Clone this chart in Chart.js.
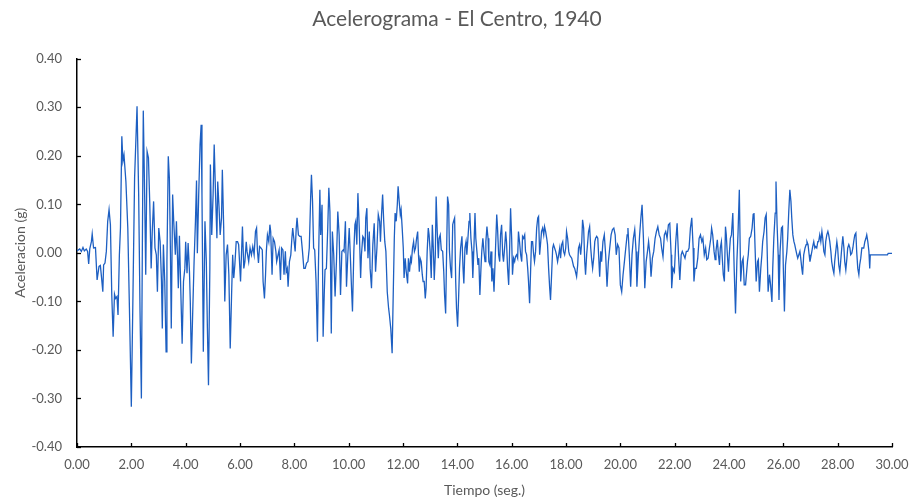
<!DOCTYPE html>
<html>
<head>
<meta charset="utf-8">
<script src="https://cdn.jsdelivr.net/npm/chart.js@4.4.1/dist/chart.umd.min.js"></script>
<style>
  body { margin: 0; background: #fff; }
</style>
</head>
<body>
<canvas id="grafico" width="910" height="499"></canvas>
<script>
// Registro El Centro 1940: tiempo (s) y aceleracion (g)
const tiempo = [
  0.00,0.10,0.16,0.22,0.27,0.34,0.39,0.43,0.47,0.53, 0.56,0.61,0.68,0.74,0.81,0.86,0.90,0.95,0.98,1.03,
  1.08,1.13,1.18,1.23,1.28,1.33,1.38,1.42,1.47,1.51, 1.56,1.60,1.65,1.69,1.73,1.76,1.80,1.87,1.93,2.00,
  2.06,2.12,2.21,2.27,2.32,2.37,2.41,2.44,2.49,2.53, 2.58,2.63,2.68,2.73,2.77,2.82,2.87,2.92,2.96,3.01,
  3.06,3.11,3.14,3.18,3.23,3.28,3.31,3.36,3.40,3.44, 3.47,3.52,3.56,3.62,3.66,3.70,3.73,3.77,
  3.87,3.92,3.97,4.00,4.05,4.09,4.14,4.17,4.21,4.26, 4.31,4.36,4.40,4.43,4.48,4.53,4.57,4.60,4.65,4.71,
  4.76,4.80,4.84,4.89,4.91,4.96,5.01,5.05,5.10,5.15, 5.18,5.23,5.27,5.32,5.35,5.40,5.44,5.49,5.54,5.59,
  5.64,5.69,5.73,5.77,5.81,5.86,5.91,5.95,6.02,6.05, 6.09,6.14,6.18,6.23,6.26,6.32,6.37,6.42,6.47,6.52,
  6.57,6.61,6.64,6.68,6.72,6.77,6.82,6.85,6.90,6.94, 6.97,7.01,7.06,7.10,7.13,7.18,7.22,7.27,7.32,7.35,
  7.40,7.44,7.49,7.53,7.58,7.62,7.67,
  7.70,7.74,7.77,7.82,7.87,7.91,7.94,7.98,8.03,8.07, 8.10,8.15,8.20,8.25,8.30,8.35,8.40,8.45,8.50,8.55,
  8.60,8.63,8.67,8.71,8.75,8.80,8.85,8.89,8.94,8.97, 9.02,9.06,9.10,9.13,9.18,9.23,9.27,9.31,9.36,9.40,
  9.45,9.50,9.55,9.60,9.65,9.70,9.75,9.80,9.83,9.88, 9.92,9.97,10.02,10.06,10.11,10.14,10.19,10.23,10.26,10.30,
  10.34,10.39,10.44,10.47,10.52,10.56,10.60,10.63,10.67,10.71, 10.76,10.79,10.84,10.89,10.94,10.99,11.04,11.09,11.14,11.17,
  11.21,11.25,11.29,11.33,11.37,11.42,11.47,11.50,
  11.55,11.60,11.64,11.68,11.71,11.75,11.79,11.82,11.86,11.90, 11.93,11.97,12.01,12.04,12.08,12.12,12.17,12.20,12.24,12.28,
  12.31,12.35,12.39,12.42,12.46,12.50,12.54,12.57,12.60,12.63, 12.67,12.71,12.74,12.78,12.82,12.85,12.89,12.93,12.96,13.00,
  13.04,13.08,13.12,13.15,13.19,13.22,13.26,13.30,13.33,13.37, 13.41,13.46,13.50,13.53,13.57,13.61,13.64,13.68,13.71,13.75,
  13.79,13.83,13.86,13.90,13.94,13.97,14.01,14.05,14.08,14.12, 14.17,14.21,14.24,14.28,14.32,14.35,14.39,14.43,14.46,14.50,
  14.54,14.57,14.61,14.65,14.68,14.72,14.76,14.79,14.83,14.87, 14.90,14.94,14.98,15.02,15.05,15.09,15.13,15.16,15.20,15.24,
  15.27,15.31,15.35,
  15.45,15.48,15.52,15.56,15.59,15.63,15.67,15.70,15.74,15.78, 15.81,15.85,15.89,15.92,15.96,16.00,16.03,16.07,16.11,16.14,
  16.18,16.22,16.25,16.29,16.33,16.37,16.40,16.44,16.48,16.51, 16.55,16.59,16.62,16.66,16.70,16.73,16.77,16.81,16.84,16.88,
  16.92,16.96,16.99,17.03,17.07,17.10,17.14,17.18,17.21,17.25, 17.29,17.32,17.36,17.40,17.43,17.47,17.51,17.54,17.58,17.62,
  17.65,17.69,17.73,17.77,17.80,17.84,17.88,17.91,17.95,17.99, 18.02,18.06,18.10,18.13,18.17,18.21,18.24,18.28,18.32,18.35,
  18.39,18.43,18.46,18.50,18.54,18.58,18.61,18.65,18.69,18.72, 18.76,18.80,18.83,18.87,18.91,18.94,18.98,19.02,19.06,19.09,
  19.13,19.17,19.20,19.24,19.28,
  19.31,19.36,19.41,19.46,19.51,19.56,19.61,19.66,19.71,19.76, 19.81,19.85,19.90,19.95,20.00,20.05,20.10,20.15,20.20,20.25,
  20.28,20.33,20.38,20.43,20.48,20.53,20.58,20.61,20.66,20.71, 20.76,20.80,20.85,20.90,20.95,21.00,21.04,21.09,21.13,21.18,
  21.23,21.28,21.33,21.38,21.43,21.48,21.52,21.57,21.62,21.67, 21.72,21.77,21.82,21.87,21.89,21.94,21.99,22.04,22.09,22.14,
  22.19,22.24,22.28,22.33,22.38,22.43,22.48,22.53,22.58,22.63, 22.68,22.71,22.75,22.80,22.85,22.90,22.95,23.00,23.04,23.09,
  23.14,
  23.18,23.23,23.28,23.33,23.36,23.40,23.45,23.49,23.52,23.57, 23.61,23.65,23.68,23.72,23.76,23.79,23.83,23.87,23.90,23.94,
  23.98,24.01,24.05,24.09,24.14,24.19,24.24,24.29,24.33,24.38, 24.43,24.48,24.52,24.56,24.61,24.68,24.71,24.75,24.80,24.85,
  24.89,24.92,24.96,25.00,25.05,25.08,25.12,25.17,25.21,25.24, 25.29,25.33,25.37,25.40,25.44,25.49,25.53,25.58,25.61,25.65,
  25.70,25.73,25.77,25.81,25.84,25.88,25.93,25.97,26.00,26.04, 26.08,26.13,26.16,26.20,26.24,26.28,26.31,26.35,26.39,26.42,
  26.46,26.50,26.53,26.57,26.61,26.64,26.68,26.71,26.75,26.80, 26.84,26.87,26.91,26.95,26.98,
  27.05,27.08,27.12,27.16,27.19,27.23,27.27,27.30,27.34,27.38, 27.42,27.45,27.49,27.53,27.56,27.60,27.64,27.67,27.71,27.75,
  27.78,27.82,27.86,27.89,27.93,27.97,28.00,28.04,28.08,28.12, 28.15,28.19,28.23,28.26,28.30,28.34,28.37,28.41,28.45,28.48,
  28.52,28.56,28.59,28.63,28.67,28.70,28.74,28.78,28.81,28.85, 28.89,28.93,28.96,29.00,29.04,29.07,29.11,29.15,29.18,29.20,
  29.83,29.86,30.00
];

const aceleracion = [
  0.004,0.008,0.003,0.011,0.004,0.008,0.003,-0.023,0.008,0.023, 0.039,0.010,0.011,-0.056,-0.028,-0.026,-0.049,-0.080,-0.025,-0.021,
  0.003,0.065,0.089,0.058,-0.087,-0.173,-0.085,-0.094,-0.090,-0.128, -0.004,0.051,0.240,0.189,0.202,0.178,0.147,0.051,-0.114,-0.317,
  -0.087,0.154,0.302,0.120,-0.121,-0.300,0.051,0.293,0.120,-0.045, 0.209,0.196,0.099,-0.032,0.044,0.106,0.010,-0.004,-0.080,0.051,
  0.023,-0.059,-0.156,0.017,-0.059,-0.204,-0.018,0.199,0.154,-0.004, -0.156,0.120,0.065,-0.004,0.065,-0.011,-0.073,0.035,
  -0.187,-0.059,-0.032,0.023,-0.042,0.020,-0.039,-0.100,-0.228,-0.121, -0.018,0.065,0.149,-0.001,0.120,0.223,0.264,0.120,-0.204,0.065,
  -0.018,-0.156,-0.273,-0.032,0.182,0.037,0.120,0.223,0.120,0.030, 0.147,0.092,0.037,0.072,0.171,0.051,-0.100,-0.004,0.017,-0.045,
  -0.197,-0.087,-0.004,-0.052,-0.025,0.023,0.023,0.017,-0.059,-0.011, 0.054,-0.032,-0.018,0.023,0.003,-0.018,0.010,-0.004,0.013,-0.004,
  0.044,0.051,0.006,-0.021,0.013,0.010,0.006,-0.059,-0.094,-0.045, 0.003,0.037,0.023,0.058,0.044,-0.045,0.030,0.023,0.003,-0.018,
  -0.004,0.006,-0.056,0.010,0.006,-0.045,0.003,
  -0.039,-0.032,-0.070,-0.018,-0.004,0.030,0.051,0.030,0.003,0.051, 0.072,0.037,0.034,0.034,0.003,-0.032,-0.032,-0.021,-0.018,0.010,
  0.113,0.161,0.106,0.010,0.006,-0.059,-0.183,-0.018,0.130,0.037, 0.099,-0.173,-0.087,-0.035,-0.032,0.051,0.134,0.085,-0.166,0.044,
  -0.004,-0.090,-0.018,0.085,0.037,-0.087,0.003,0.006,0.003,0.065, -0.070,-0.004,0.051,-0.004,-0.080,-0.121,0.003,0.058,0.065,0.017,
  0.123,0.051,-0.052,-0.004,0.034,0.030,0.003,0.072,0.092,-0.011, 0.044,-0.032,-0.073,0.017,0.061,-0.039,0.010,0.079,0.065,0.023,
  0.079,0.120,0.065,0.023,0.003,-0.080,-0.114,-0.128,
  -0.156,-0.207,-0.087,0.030,0.082,0.065,0.099,0.137,0.106,0.079, 0.089,0.051,0.010,-0.052,-0.011,-0.039,-0.063,-0.011,-0.039,-0.011,
  -0.018,0.010,0.023,0.003,0.010,0.030,0.044,-0.004,-0.039,-0.011, -0.018,-0.045,-0.059,-0.059,-0.094,-0.073,0.003,0.051,0.037,0.003,
  -0.052,0.058,0.003,-0.056,-0.004,0.116,0.044,-0.011,0.030,0.037, 0.006,0.003,-0.039,-0.087,-0.125,0.017,0.116,0.099,0.003,-0.032,
  -0.052,0.058,0.065,0.072,-0.059,-0.114,-0.152,-0.087,-0.032,0.010, 0.034,-0.032,-0.063,0.010,0.023,-0.004,0.030,0.065,0.082,0.030,
  0.003,-0.052,0.010,0.082,0.030,0.003,-0.025,-0.011,-0.087,-0.032, 0.003,0.030,0.003,-0.018,0.023,0.054,0.030,-0.018,-0.025,0.003,
  -0.059,-0.032,-0.080,
  0.079,0.051,-0.004,-0.018,0.037,0.058,-0.004,-0.018,0.010,0.044, 0.023,-0.032,-0.066,-0.004,0.092,0.030,-0.045,-0.011,-0.018,-0.008,
  -0.004,-0.011,0.044,0.023,-0.004,-0.018,0.034,0.030,0.037,0.003, -0.004,-0.032,-0.059,-0.104,-0.032,0.023,0.023,-0.004,-0.018,0.003,
  0.051,0.072,0.075,-0.004,0.023,0.044,0.051,0.037,0.054,0.044, 0.030,0.017,-0.032,-0.073,-0.097,-0.045,0.010,0.017,0.010,0.003,
  -0.004,-0.018,-0.004,0.010,-0.011,0.017,0.023,0.003,-0.004,0.010, 0.044,0.030,0.003,-0.004,-0.008,-0.011,-0.018,-0.028,-0.032,-0.039,
  -0.049,-0.025,0.010,0.017,-0.004,0.023,0.068,0.051,-0.018,-0.045, -0.004,0.023,0.044,0.054,0.010,-0.011,-0.032,-0.011,0.023,0.030,
  0.034,0.030,-0.004,-0.049,0.003,
  -0.018,0.023,0.037,-0.004,-0.070,-0.018,0.010,0.037,0.048,0.051, 0.037,-0.004,0.017,0.010,-0.066,-0.080,-0.045,-0.018,0.010,0.037,
  0.051,-0.004,-0.070,-0.004,0.030,0.048,0.003,-0.070,-0.011,0.037, 0.075,0.099,0.030,-0.073,-0.018,0.003,0.023,-0.004,-0.049,-0.011,
  0.003,0.030,0.044,0.054,0.037,0.030,0.010,-0.008,0.037,0.044, 0.030,0.058,0.061,-0.004,-0.073,-0.032,-0.039,0.023,0.061,-0.004,
  -0.056,-0.004,0.003,-0.004,-0.011,0.003,0.003,0.010,0.051,0.072, 0.010,-0.059,-0.032,-0.032,-0.011,0.030,0.037,0.023,0.030,-0.004,
  0.010,
  -0.014,-0.011,0.010,0.030,0.051,0.037,0.003,-0.014,0.003,0.027, -0.004,-0.025,0.010,0.023,-0.018,-0.045,-0.059,0.054,0.037,-0.004,
  -0.039,-0.004,0.030,0.037,0.082,-0.032,-0.125,-0.018,0.037,0.130, -0.059,-0.018,-0.011,-0.066,-0.066,-0.018,-0.004,0.030,0.034,0.051,
  0.079,0.082,0.010,-0.059,-0.018,-0.014,-0.080,-0.032,-0.004,0.023, 0.044,0.072,0.079,0.017,-0.080,-0.045,-0.066,-0.101,-0.032,0.030,
  0.082,0.147,0.058,-0.004,-0.097,0.003,0.051,0.054,-0.032,-0.121, -0.025,0.003,0.030,0.085,0.130,0.106,0.072,0.037,0.023,0.017,
  0.006,-0.004,-0.011,-0.004,0.003,-0.011,-0.032,-0.045,-0.004,0.010, 0.017,0.023,0.017,-0.004,-0.018,
  0.003,0.013,0.023,0.010,0.013,0.010,0.023,0.023,0.037,0.023, 0.044,0.030,0.003,-0.004,0.023,0.037,0.044,0.037,0.023,0.003,
  -0.018,-0.032,-0.042,-0.018,0.003,0.023,0.010,-0.025,-0.039,-0.011, 0.010,0.034,0.010,-0.018,-0.035,-0.011,0.010,0.017,0.010,-0.004,
  -0.001,0.010,0.023,0.037,0.041,0.003,-0.032,-0.045,-0.025,-0.011, 0.010,0.010,0.010,0.023,0.030,0.037,0.023,0.003,-0.032,-0.004,
  -0.004,-0.001,-0.001
];

// ejes
const ejeX = { min: 0, max: 30, paso: 2 };
const ejeY = { min: -0.4, max: 0.4, paso: 0.1 };

const titulo = "Acelerograma - El Centro, 1940";
const tituloX = "Tiempo (seg.)";
const tituloY = "Aceleracion (g)";

const gris = "#595959";
const fuente = "Lato, 'Open Sans', sans-serif";

const puntos = tiempo.map((t, i) => ({ x: t, y: aceleracion[i] }));

// marcas cortas hacia adentro en los dos ejes
const marcasInternas = {
  id: "marcasInternas",
  afterDraw(chart) {
    const { ctx, chartArea, scales } = chart;
    ctx.save();
    ctx.strokeStyle = "#000";
    ctx.lineWidth = 1.3;
    scales.x.ticks.forEach((tk) => {
      const px = Math.round(scales.x.getPixelForValue(tk.value)) + 0.5;
      ctx.beginPath();
      ctx.moveTo(px, chartArea.bottom);
      ctx.lineTo(px, chartArea.bottom - 4);
      ctx.stroke();
    });
    scales.y.ticks.forEach((tk) => {
      const py = Math.round(scales.y.getPixelForValue(tk.value)) + 0.5;
      ctx.beginPath();
      ctx.moveTo(chartArea.left, py);
      ctx.lineTo(chartArea.left + 4, py);
      ctx.stroke();
    });
    ctx.restore();
  },
};

const grafico = new Chart(document.getElementById("grafico"), {
  type: "line",
  data: {
    datasets: [
      {
        data: puntos,
        borderColor: "#1d5fc2",
        borderWidth: 1.3,
        pointRadius: 0,
        tension: 0,
        fill: false,
      },
    ],
  },
  options: {
    responsive: false,
    animation: false,
    devicePixelRatio: 1,
    layout: { padding: { left: 5, right: 1, top: 0, bottom: 0 } },
    plugins: {
      legend: { display: false },
      tooltip: { enabled: false },
      title: {
        display: true,
        text: titulo,
        color: gris,
        font: { family: fuente, size: 21, weight: "normal" },
        padding: { top: 7, bottom: 26.5 },
      },
    },
    scales: {
      x: {
        type: "linear",
        min: ejeX.min,
        max: ejeX.max,
        afterFit: (s) => {
          s.height = 52;
          s.paddingRight = 18; // solo media etiqueta "30.00" a la derecha
        },
        ticks: {
          stepSize: ejeX.paso,
          color: gris,
          font: { family: fuente, size: 13 },
          padding: 10,
          maxRotation: 0,
          callback: (v) => v.toFixed(2),
        },
        grid: { drawOnChartArea: false, drawTicks: false },
        border: { display: true, color: "#000", width: 1.5 },
        title: {
          display: true,
          text: tituloX,
          color: gris,
          font: { family: fuente, size: 14 },
          padding: { top: 0, bottom: 0 },
        },
      },
      y: {
        min: ejeY.min,
        max: ejeY.max,
        afterFit: (s) => { s.width = 72; },
        ticks: {
          stepSize: ejeY.paso,
          color: gris,
          font: { family: fuente, size: 13 },
          padding: 15,
          callback: (v) => v.toFixed(2),
        },
        grid: { drawOnChartArea: false, drawTicks: false },
        border: { display: true, color: "#000", width: 1.5 },
        title: {
          display: true,
          text: tituloY,
          color: gris,
          font: { family: fuente, size: 14 },
          padding: { top: 7, bottom: 0 },
        },
      },
    },
  },
  plugins: [marcasInternas],
});
</script>
</body>
</html>
